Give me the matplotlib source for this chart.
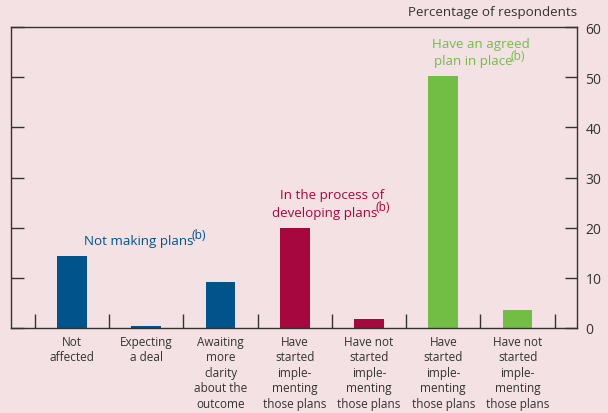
import numpy as np
import matplotlib
matplotlib.use("Agg")
from matplotlib import pyplot as plt

plt.rcParams['font.family'] = ['Open Sans', 'DejaVu Sans']

categories = ['Not\naffected', 'Expecting\na deal', 'Awaiting\nmore\nclarity\nabout the\noutcome',
              'Have\nstarted\nimple-\nmenting\nthose plans', 'Have not\nstarted\nimple-\nmenting\nthose plans',
              'Have\nstarted\nimple-\nmenting\nthose plans', 'Have not\nstarted\nimple-\nmenting\nthose plans']
values = [14.4, 0.4, 9.2, 20.0, 1.8, 50.3, 3.6]
groups = ['blue', 'blue', 'blue', 'red', 'red', 'green', 'green']

colours = {'blue': '#00548B', 'red': '#A6073F', 'green': '#72BE44'}
bg = '#F3E1E3'
ink = '#333333'

fig = plt.figure(figsize=(6.08, 4.14), dpi=100, facecolor=bg)
ax = fig.add_axes([11/608, 1 - 329/414, (577 - 11)/608, (329 - 28)/414])
ax.set_facecolor(bg)

x = np.arange(len(values))
ax.bar(x, values, width=0.4, color=[colours[g] for g in groups], zorder=2)

ax.set_xlim(-0.82, 6.8)
ax.set_ylim(0, 60)

# y axis: ticks inward on both sides, labels right
ax.set_yticks(np.arange(0, 61, 10))
ax.yaxis.tick_right()
ax.tick_params(axis='y', which='major', direction='in', length=9, width=1, color=ink,
               left=True, right=True, labelleft=False, labelright=True,
               labelsize=10, labelcolor=ink, pad=6)

# x axis: separators as minor ticks, labels at centres
ax.set_xticks(x)
ax.set_xticklabels(categories, fontsize=8.5, color=ink, linespacing=1.25, va='top')
ax.set_xticks(np.arange(-0.5, 7, 1), minor=True)
ax.tick_params(axis='x', which='major', length=0, pad=5)
ax.tick_params(axis='x', which='minor', direction='in', length=10, width=1, color=ink)

for s in ax.spines.values():
    s.set_color(ink)
    s.set_linewidth(1)

ax.text(1.0, 1.03, 'Percentage of respondents', transform=ax.transAxes,
        ha='right', va='bottom', fontsize=9.6, color=ink)

# annotations with a "(b)" superscript
renderer = fig.canvas.get_renderer()
fs = 9.6
line_h = 17.5 / 5.017  # data units between lines


def label(xc, yc, lines, colour):
    n = len(lines)
    for i, ln in enumerate(lines):
        y = yc + (n - 1) / 2 * line_h - i * line_h
        if i < n - 1:
            ax.text(xc, y, ln, ha='center', va='center', fontsize=fs, color=colour)
            continue
        body = ax.text(xc, y, ln, ha='left', va='center', fontsize=fs, color=colour)
        sup = ax.text(xc, y, '(b)', ha='left', va='center', fontsize=fs * 0.9, color=colour)
        wb = body.get_window_extent(renderer).width
        ws = sup.get_window_extent(renderer).width
        total = wb + ws
        x0 = ax.transData.transform((xc, y))[0] - total / 2
        xb = ax.transData.inverted().transform((x0, 0))[0]
        xs = ax.transData.inverted().transform((x0 + wb - 2.0, 0))[0]
        body.set_x(xb)
        sup.set_x(xs)
        sup.set_y(y + 1.1)


label(1.0, 17.5, ['Not making plans'], colours['blue'])
label(3.5, 24.8, ['In the process of', 'developing plans'], colours['red'])
label(5.5, 55.0, ['Have an agreed', 'plan in place'], colours['green'])

fig.savefig('out.png', dpi=100, facecolor=bg)
